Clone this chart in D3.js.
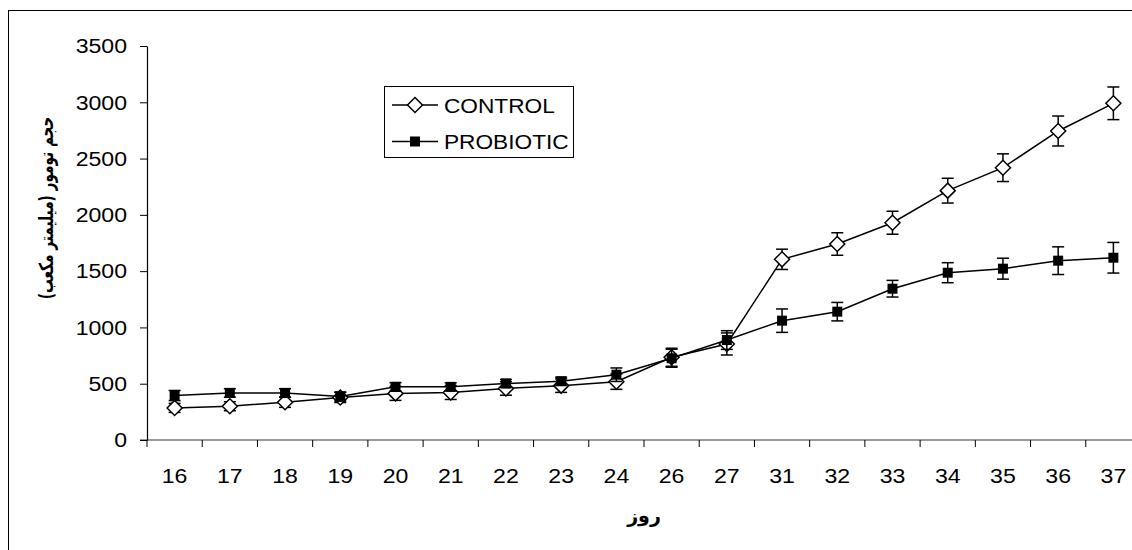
<!DOCTYPE html>
<html>
<head>
<meta charset="utf-8">
<script src="https://cdn.jsdelivr.net/npm/d3@7"></script>
<style>
  body { margin: 0; background: #fff; }
  svg { display: block; }
</style>
</head>
<body>
<div id="tumorChart"></div>
<script>
var days = ["16","17","18","19","20","21","22","23","24","26","27","31","32","33","34","35","36","37"];
var control = [285, 300, 335, 378, 414, 422, 458, 483, 518, 735, 853, 1605, 1741, 1930, 2215, 2419, 2745, 2991];
var controlErr = [40, 40, 45, 45, 62, 62, 60, 60, 68, 80, 98, 90, 100, 102, 110, 123, 133, 145];
var probiotic = [395, 418, 418, 386, 472, 472, 502, 522, 580, 726, 888, 1060, 1140, 1344, 1486, 1522, 1593, 1619];
var probioticErr = [45, 38, 38, 40, 38, 36, 36, 36, 60, 80, 83, 104, 82, 74, 89, 93, 123, 136];
var yTicks = [0, 500, 1000, 1500, 2000, 2500, 3000, 3500];
var seriesNames = ["CONTROL", "PROBIOTIC"];

var width = 1132, height = 550;
var margin = {top: 46, left: 147, bottom: 440, right: 1141};
var stretch = 1.1;

var svg = d3.select("#tumorChart")
  .append("svg")
    .attr("width", width)
    .attr("height", height);

// outer frame (cut off on right and bottom like the source)
svg.append("rect")
  .attr("x", 8.5).attr("y", 10.5)
  .attr("width", 1200).attr("height", 1000)
  .attr("fill", "none").attr("stroke", "#000").attr("stroke-width", 1);

var x = d3.scaleBand()
  .domain(days)
  .range([margin.left, margin.right])
  .paddingInner(0).paddingOuter(0);

var y = d3.scaleLinear()
  .domain([0, 3500])
  .range([margin.bottom, margin.top]);

// x axis
var xAxis = svg.append("g")
  .attr("transform", "translate(0," + margin.bottom + ")")
  .call(d3.axisBottom(x).tickSize(0).tickPadding(0));
xAxis.select(".domain").remove();
xAxis.append("line")
  .attr("x1", margin.left - 7).attr("x2", margin.right)
  .attr("stroke", "#777").attr("stroke-width", 1.3);
xAxis.selectAll(".tick text")
  .attr("y", 43).attr("dy", 0)
  .attr("font-family", "Liberation Sans, Arial, sans-serif")
  .attr("font-size", 21)
  .attr("fill", "#000")
  .attr("transform", "scale(" + stretch + ",1)");
var bounds = days.map(function(d) { return x(d); }).concat([margin.right]);
xAxis.selectAll(".bound")
  .data(bounds)
  .enter().append("line")
  .attr("x1", function(d) { return d; })
  .attr("x2", function(d) { return d; })
  .attr("y1", 0).attr("y2", 7)
  .attr("stroke", "#000").attr("stroke-width", 1);

// y axis
var yAxis = svg.append("g")
  .attr("transform", "translate(" + margin.left + ",0)")
  .call(d3.axisLeft(y).tickValues(yTicks).tickFormat(d3.format("d"))
    .tickSize(7).tickSizeOuter(0).tickPadding(13));
yAxis.select(".domain").attr("stroke", "#000").attr("stroke-width", 1.2);
yAxis.selectAll(".tick line").attr("stroke", "#000");
yAxis.selectAll(".tick text")
  .attr("x", -20 / stretch)
  .attr("font-family", "Liberation Sans, Arial, sans-serif")
  .attr("font-size", 21)
  .attr("fill", "#000")
  .attr("transform", "scale(" + stretch + ",1)");

// axis titles
svg.append("text")
  .attr("transform", "translate(46,208) rotate(-90) scale(0.7,1)")
  .attr("text-anchor", "middle")
  .attr("direction", "rtl")
  .attr("dy", "0.35em")
  .attr("font-family", "DejaVu Sans, sans-serif")
  .attr("font-weight", "bold")
  .attr("font-size", 19.5)
  .text("حجم تومور (میلیمتر مکعب)");

svg.append("text")
  .attr("x", (margin.left + margin.right) / 2)
  .attr("y", 522)
  .attr("text-anchor", "middle")
  .attr("direction", "rtl")
  .attr("font-family", "DejaVu Sans, sans-serif")
  .attr("font-weight", "bold")
  .attr("font-size", 19)
  .text("روز");

var cx = function(i) { return x(days[i]) + x.bandwidth() / 2; };
var line = d3.line()
  .x(function(d, i) { return cx(i); })
  .y(function(d) { return y(d); });

function errorBars(vals, errs) {
  var g = svg.append("g").attr("stroke", "#000").attr("stroke-width", 1.5);
  vals.forEach(function(v, i) {
    var top = y(v + errs[i]), bot = y(v - errs[i]), c = cx(i);
    g.append("line").attr("x1", c).attr("x2", c).attr("y1", top).attr("y2", bot);
    g.append("line").attr("x1", c - 6).attr("x2", c + 6).attr("y1", top).attr("y2", top);
    g.append("line").attr("x1", c - 6).attr("x2", c + 6).attr("y1", bot).attr("y2", bot);
  });
}

var diamond = "M0,-7.5L7.5,0L0,7.5L-7.5,0Z";
var square = "M-5,-5H5V5H-5Z";

// control series
errorBars(control, controlErr);
svg.append("path")
  .datum(control)
  .attr("d", line)
  .attr("fill", "none").attr("stroke", "#000").attr("stroke-width", 1.5);
svg.selectAll(".ctl")
  .data(control)
  .enter().append("path")
  .attr("d", diamond)
  .attr("transform", function(d, i) { return "translate(" + cx(i) + "," + y(d) + ")"; })
  .attr("fill", "#fff").attr("stroke", "#000").attr("stroke-width", 1.5);

// probiotic series
errorBars(probiotic, probioticErr);
svg.append("path")
  .datum(probiotic)
  .attr("d", line)
  .attr("fill", "none").attr("stroke", "#000").attr("stroke-width", 1.5);
svg.selectAll(".pro")
  .data(probiotic)
  .enter().append("path")
  .attr("d", square)
  .attr("transform", function(d, i) { return "translate(" + cx(i) + "," + y(d) + ")"; })
  .attr("fill", "#000");

// legend
var legend = svg.append("g");
legend.append("rect")
  .attr("x", 384.5).attr("y", 86.5)
  .attr("width", 189).attr("height", 71)
  .attr("fill", "#fff").attr("stroke", "#000").attr("stroke-width", 1);
var rows = legend.selectAll(".row")
  .data(seriesNames)
  .enter().append("g")
  .attr("transform", function(d, i) { return "translate(0," + (105 + i * 36.5) + ")"; });
rows.append("line")
  .attr("x1", 392).attr("x2", 438)
  .attr("stroke", "#000").attr("stroke-width", 1.5);
rows.append("path")
  .attr("d", function(d, i) { return i == 0 ? diamond : square; })
  .attr("transform", "translate(415,0)")
  .attr("fill", function(d, i) { return i == 0 ? "#fff" : "#000"; })
  .attr("stroke", "#000").attr("stroke-width", function(d, i) { return i == 0 ? 1.5 : 0; });
rows.append("text")
  .attr("x", 444 / 1.08)
  .attr("dy", "0.36em")
  .attr("transform", "scale(1.08,1)")
  .attr("font-family", "Liberation Sans, Arial, sans-serif")
  .attr("font-size", 21)
  .text(function(d) { return d; });
</script>
</body>
</html>
